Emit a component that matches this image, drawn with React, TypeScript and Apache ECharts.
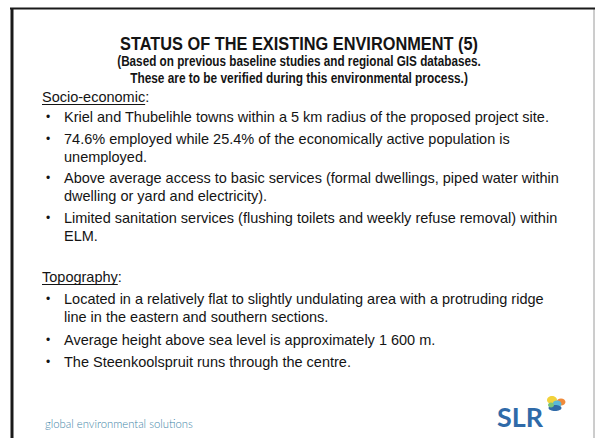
import React, { useEffect, useRef } from "react";
import * as echarts from "echarts";

const TITLE = "STATUS OF THE EXISTING ENVIRONMENT (5)";
const SUBTITLE_LINES = [
  "(Based on previous baseline studies and regional GIS databases.",
  "These are to be verified during this environmental process.)",
];
const SECTION_1 = "Socio-economic";
const SECTION_1_BULLETS = [
  ["Kriel and Thubelihle towns within a 5 km radius of the proposed project site."],
  ["74.6% employed while 25.4% of the economically active population is", "unemployed."],
  ["Above average access to basic services (formal dwellings, piped water within", "dwelling or yard and electricity)."],
  ["Limited sanitation services (flushing toilets and weekly refuse removal) within", "ELM."],
];
const SECTION_2 = "Topography";
const SECTION_2_BULLETS = [
  ["Located in a relatively flat to slightly undulating area with a protruding ridge", "line in the eastern and southern sections."],
  ["Average height above sea level is approximately 1 600 m."],
  ["The Steenkoolspruit runs through the centre."],
];
const FOOTER = "global environmental solutions";
const LOGO = "SLR";

const FONT = "'Liberation Sans', Arial, Helvetica, sans-serif";

function measure(text: string, font: string): number {
  const c = document.createElement("canvas");
  const ctx = c.getContext("2d");
  if (!ctx) return text.length * 7;
  ctx.font = font;
  return ctx.measureText(text).width;
}

export default function App() {
  const ref = useRef<HTMLDivElement>(null);
  useEffect(() => {
    if (!ref.current) return;
    const chart = echarts.init(ref.current, undefined, { renderer: "svg" });
    const els: any[] = [];
    // frame
    els.push({ type: "rect", shape: { x: 0, y: 0, width: 596, height: 438 }, style: { fill: "#ffffff" } });
    els.push({ type: "line", shape: { x1: 594, y1: 8, x2: 594, y2: 438 }, style: { stroke: "#9a9a9a", lineWidth: 1 } });
    els.push({ type: "line", shape: { x1: 10, y1: 8.5, x2: 595, y2: 8.5 }, style: { stroke: "#1a1a1a", lineWidth: 2 } });
    els.push({ type: "line", shape: { x1: 12, y1: 8, x2: 12, y2: 438 }, style: { stroke: "#1a1a1a", lineWidth: 3 } });

    const txt = (text: string, x: number, y: number, size: number, opts: any = {}) => {
      const weight = opts.weight ?? "normal";
      const family = opts.family ?? FONT;
      let scaleX = 1;
      if (opts.targetWidth) {
        const w = measure(text, `${weight} ${size}px ${family}`);
        if (w > 0) scaleX = opts.targetWidth / w;
      }
      els.push({
        type: "text",
        x,
        y,
        scaleX,
        style: {
          text,
          fontFamily: family,
          fontSize: size,
          fontWeight: weight,
          fill: opts.color ?? "#141414",
          align: opts.align ?? "left",
          verticalAlign: "middle",
        },
      });
    };

    txt(TITLE, 299, 44, 18, { weight: "bold", align: "center", targetWidth: 358 });
    txt(SUBTITLE_LINES[0], 299, 61.5, 14, { weight: "bold", align: "center", targetWidth: 364 });
    txt(SUBTITLE_LINES[1], 299, 78.5, 14, { weight: "bold", align: "center", targetWidth: 338 });

    const BODY = 14.5;
    const heading = (label: string, y: number) => {
      txt(label, 42, y, BODY);
      const w = measure(label, `normal ${BODY}px ${FONT}`);
      txt(":", 42 + w, y, BODY);
      els.push({ type: "line", shape: { x1: 42, y1: y + 7.5, x2: 42 + w, y2: y + 7.5 }, style: { stroke: "#141414", lineWidth: 1 } });
    };

    const bullets = (items: string[][], ys: number[][]) => {
      items.forEach((lines, i) => {
        txt("•", 46, ys[i][0], 12);
        lines.forEach((l, j) => txt(l, 64, ys[i][j], BODY));
      });
    };

    heading(SECTION_1, 97);
    bullets(SECTION_1_BULLETS, [[117], [139, 157], [178, 196], [218, 236]]);
    heading(SECTION_2, 277);
    bullets(SECTION_2_BULLETS, [[299, 317], [340], [362]]);

    txt(FOOTER, 45, 423.5, 11.5, { family: "Lato, 'Open Sans', sans-serif", color: "#3f86a8", weight: 300, targetWidth: 148 });
    txt(LOGO, 497, 416, 27, { family: "Lato, 'Open Sans', sans-serif", color: "#2f6aa8", weight: "bold", targetWidth: 46 });

    // swirl mark
    els.push({ type: "ellipse", shape: { cx: 552, cy: 400, rx: 5, ry: 4 }, style: { fill: "#f2d23a" } });
    els.push({ type: "ellipse", shape: { cx: 561, cy: 402, rx: 4.5, ry: 3.5 }, style: { fill: "#f08a3a" } });
    els.push({ type: "ellipse", shape: { cx: 557, cy: 404, rx: 4.5, ry: 3.5 }, style: { fill: "#5bb8d8" } });
    els.push({ type: "ellipse", shape: { cx: 555, cy: 408, rx: 6.5, ry: 3 }, style: { fill: "#2f6aa8" } });
    els.push({ type: "ellipse", shape: { cx: 551, cy: 405, rx: 3, ry: 2.5 }, style: { fill: "#7cc47a" } });

    chart.setOption({ animation: false, graphic: { elements: els } });
    return () => chart.dispose();
  }, []);
  return <div ref={ref} style={{ width: 596, height: 438, position: "absolute", left: 0, top: 0 }} />;
}
